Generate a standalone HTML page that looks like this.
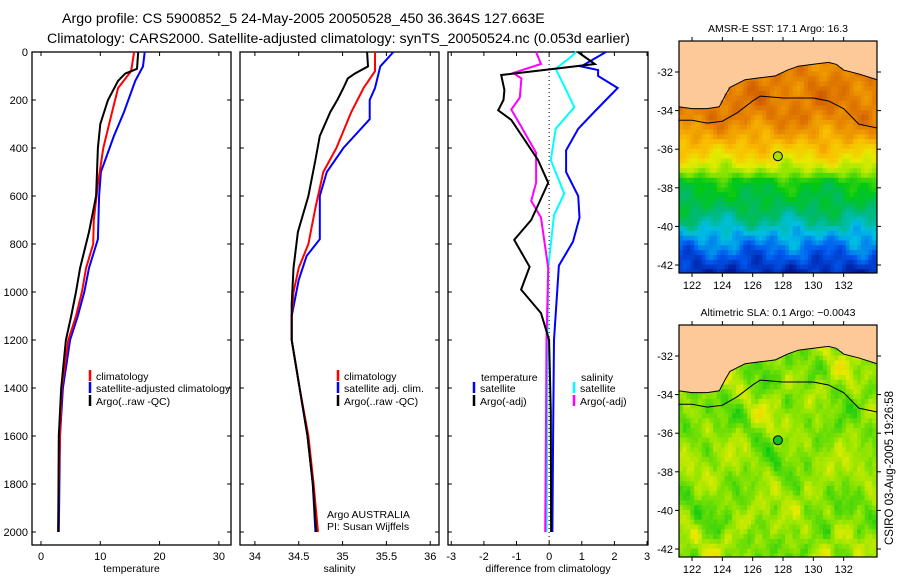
<!DOCTYPE html>
<html><head><meta charset="utf-8">
<style>
html,body{margin:0;padding:0;background:#fff;}
svg text{font-family:"Liberation Sans",sans-serif;fill:#000;}
</style></head>
<body>
<svg id="chart" width="900" height="580" viewBox="0 0 900 580" xmlns="http://www.w3.org/2000/svg">
<text x="62" y="23" font-size="14.2">Argo profile: CS 5900852_5 24-May-2005 20050528_450 36.364S 127.663E</text>
<text x="47" y="43" font-size="14.2">Climatology: CARS2000. Satellite-adjusted climatology: synTS_20050524.nc (0.053d earlier)</text>
<g id="panels"></g>
<g id="maps"></g>
<text transform="translate(893,545) rotate(-90)" font-size="11.5">CSIRO 03-Aug-2005 19:26:58</text>
</svg>
<script>
// ---------- data ----------
const tDepth = [0,80,150,250,400,550,700,800,900,1000,1100,1200,1400,1600,1800,2000];
const tClim  = [15.7,15.2,13,12,10.5,9.6,8.9,8.8,7.6,6.9,5.9,4.6,3.5,3.2,3.0,2.9];
const tSatDepth = [0,60,120,250,350,500,600,780,900,1000,1100,1200,1400,1600,2000];
const tSat   = [17.5,17.2,15.9,14,12.3,10.1,9.8,9.6,8.1,7.3,6.2,4.9,3.7,3.2,3.0];
const tArgoDepth = [0,70,90,120,200,300,400,600,750,900,1000,1100,1200,1400,1600,2000];
const tArgo  = [16.4,16.2,14.2,13,11.3,10,9.6,9.3,8.1,6.6,5.9,5.1,4.2,3.4,3.0,2.9];

const sArgoDepth = [0,60,90,110,150,200,250,350,450,600,750,900,1050,1200,1400,1600,1800,2000];
const sArgo = [35.28,35.29,35.14,35.06,35.01,34.94,34.86,34.74,34.69,34.61,34.49,34.44,34.42,34.42,34.51,34.60,34.66,34.70];
const sClimDepth = [0,80,150,250,400,500,650,800,900,1000,1100,1200,1400,1600,1800,2000];
const sClim = [35.37,35.37,35.24,35.10,34.93,34.78,34.69,34.61,34.50,34.44,34.42,34.42,34.51,34.61,34.67,34.72];
const sSatDepth = [0,60,150,200,280,400,500,600,780,850,950,1100,1200,1400,1600,1800,2000];
const sSat = [35.58,35.43,35.37,35.31,35.31,35.01,34.82,34.74,34.74,34.59,34.50,34.42,34.42,34.51,34.60,34.66,34.69];

const dTArgoDepth = [0,50,96,158,200,243,283,450,545,700,783,895,990,1088,1200,1500,2000];
const dTArgo = [0.88,1.4,-1.47,-1.37,-1.4,-1.56,-1.16,-0.34,-0.03,-0.55,-1.07,-0.6,-0.86,-0.25,0.0,0.05,0.06];
const dSArgoDepth = [0,50,87,110,190,240,310,420,545,620,690,900,1200,1600,2000];
const dSArgo = [-0.4,-0.25,-1.1,-0.85,-0.9,-1.16,-0.86,-0.4,-0.4,-0.55,-0.25,-0.03,-0.08,-0.1,-0.12];
const dSSatDepth = [0,20,70,175,230,320,450,590,680,900,1200,1600,2000];
const dSSat = [0.83,0.67,0.2,0.58,0.77,0.2,0.05,0.46,0.15,-0.03,-0.05,-0.06,-0.08];
const dTSatDepth = [0,60,75,100,150,200,250,320,410,500,600,690,790,890,1200,1600,2000];
const dTSat = [1.74,0.98,1.5,1.5,2.1,1.74,1.38,0.89,0.52,0.52,0.89,0.93,0.73,0.3,0.15,0.12,0.1];

const depthTicks = [0,200,400,600,800,1000,1200,1400,1600,1800,2000];
const tempTicks = [0,10,20,30];
const salTicks = [34,34.5,35,35.5,36];
const diffTicks = [-3,-2,-1,0,1,2,3];

// ---------- helpers ----------
const NS="http://www.w3.org/2000/svg";
function el(tag,attrs,parent){const e=document.createElementNS(NS,tag);for(const k in attrs)e.setAttribute(k,attrs[k]);parent.appendChild(e);return e;}
const panelsG=document.getElementById('panels');
const pTop=52,pBot=545;
const yScale=d=>pTop+d*(48/200);

function panel(name,x0,x1,vmin,vmax,ticks,tickFmt,xlabel,showY){
  const xs=v=>x0+(v-vmin)/(vmax-vmin)*(x1-x0);
  const g=el('g',{},panelsG);
  
  
  const r=el('rect',{x:x0,y:pTop,width:x1-x0,height:pBot-pTop,fill:'none',stroke:'#000','stroke-width':1.3},g);
  
  
  depthTicks.forEach(d=>{
    const y=yScale(d);
    el('line',{x1:x0,x2:x0+4,y1:y,y2:y,stroke:'#000'},g);
    el('line',{x1:x1-4,x2:x1,y1:y,y2:y,stroke:'#000'},g);
    if(showY){const t=el('text',{x:x0-4,y:y+4,'font-size':11,'text-anchor':'end'},g);t.textContent=d;
      
      }
  });
  ticks.forEach(v=>{
    const x=xs(v);
    el('line',{x1:x,x2:x,y1:pTop,y2:pTop+4,stroke:'#000'},g);
    el('line',{x1:x,x2:x,y1:pBot-4,y2:pBot,stroke:'#000'},g);
    const t=el('text',{x:x,y:pBot+15,'font-size':11,'text-anchor':'middle'},g);t.textContent=tickFmt(v);
    
    
  });
  const xl=el('text',{x:(x0+x1)/2,y:pBot+27,'font-size':10.5,'text-anchor':'middle'},g);xl.textContent=xlabel;
  
  
  return {xs,g};
}
function line(p,depths,vals,color,name,w){
  const pts=depths.map((d,i)=>p.xs(vals[i]).toFixed(1)+','+yScale(d).toFixed(1)).join(' ');
  const l=el('polyline',{points:pts,fill:'none',stroke:color,'stroke-width':w||2,'stroke-linejoin':'miter'},p.g);
  
  
}
function legend(g,x,y,color,label,name){
  el('line',{x1:x,x2:x,y1:y-10,y2:y+1,stroke:color,'stroke-width':2.5},g);
  if(label){const t=el('text',{x:x+6,y:y,'font-size':10.5},g);t.textContent=label;
  
  }
}

const p1=panel('temperature',32,231,-1.52,32.05,tempTicks,v=>v,'temperature',true);
line(p1,tSatDepth,tSat,'#0000ff','satellite-adjusted-temperature-line');
line(p1,tDepth,tClim,'#ff0000','climatology-temperature-line');
line(p1,tArgoDepth,tArgo,'#000','argo-temperature-line');
legend(p1.g,90,380,'#ff0000','climatology','legend-climatology');
legend(p1.g,90,392,'#0000ff','satellite-adjusted climatology','legend-satellite');
legend(p1.g,90,405,'#000','Argo(..raw -QC)','legend-argo');

const p2=panel('salinity',240,439,33.83,36.1,salTicks,v=>v,'salinity',false);
line(p2,sSatDepth,sSat,'#0000ff','satellite-adjusted-salinity-line');
line(p2,sClimDepth,sClim,'#ff0000','climatology-salinity-line');
line(p2,sArgoDepth,sArgo,'#000','argo-salinity-line');
legend(p2.g,338,380,'#ff0000','climatology','legend-climatology');
legend(p2.g,338,392,'#0000ff','satellite adj. clim.','legend-satellite');
legend(p2.g,338,405,'#000','Argo(..raw -QC)','legend-argo');
const a1=el('text',{x:327,y:518,'font-size':10.5},p2.g);a1.textContent='Argo AUSTRALIA';


const a2=el('text',{x:327,y:530,'font-size':10.5},p2.g);a2.textContent='PI: Susan Wijffels';



const p3=panel('difference',448,648,-3.1,3.03,diffTicks,v=>v,'difference from climatology',false);
el('line',{x1:p3.xs(0),x2:p3.xs(0),y1:pTop,y2:pBot,stroke:'#000','stroke-width':1,'stroke-dasharray':'1,3'},p3.g);
line(p3,dTSatDepth,dTSat,'#0000ff','temperature-satellite-diff-line');
line(p3,dSSatDepth,dSSat,'#00ffff','salinity-satellite-diff-line');
line(p3,dSArgoDepth,dSArgo,'#ff00ff','salinity-argo-diff-line');
line(p3,dTArgoDepth,dTArgo,'#000','temperature-argo-diff-line');
let tt=el('text',{x:481,y:381,'font-size':10.5},p3.g);tt.textContent='temperature';


let st=el('text',{x:581,y:381,'font-size':10.5},p3.g);st.textContent='salinity';


legend(p3.g,474,392,'#0000ff','satellite','legend-temp-satellite');
legend(p3.g,474,405,'#000','Argo(-adj)','legend-temp-argo');
legend(p3.g,574,392,'#00ffff','satellite','legend-sal-satellite');
legend(p3.g,574,405,'#ff00ff','Argo(-adj)','legend-sal-argo');

// ---------- maps ----------
const mapsG=document.getElementById('maps');
const lonMin=121.14,lonMax=134.2,mx0=679,mx1=877;
const lonTicks=[122,124,126,128,130,132];
const latTicks=[-32,-34,-36,-38,-40,-42];
const coast=[[121.1,-33.8],[122,-33.9],[123,-33.9],[123.8,-33.8],[124.2,-33.2],[124.5,-32.8],[125.5,-32.4],[126.5,-32.3],[127.5,-32.2],[128.3,-31.9],[129,-31.7],[130,-31.6],[131,-31.5],[131.5,-31.6],[132,-31.9],[133,-32.1],[134.2,-32.4]];
const shelf=[[121.1,-34.5],[122,-34.5],[123,-34.65],[124,-34.55],[125,-34.1],[126,-33.5],[126.5,-33.25],[128,-33.35],[130,-33.35],[131,-33.5],[132,-33.9],[132.5,-34.3],[133,-34.7],[134.2,-34.9]];
function coastLat(lon){for(let i=0;i<coast.length-1;i++){const a=coast[i],b=coast[i+1];if(lon>=a[0]&&lon<=b[0])return a[1]+(b[1]-a[1])*(lon-a[0])/(b[0]-a[0]);}return -32.4;}
function lerpC(stops,v){v=Math.max(0,Math.min(1,v));for(let i=0;i<stops.length-1;i++){if(v<=stops[i+1][0]){const t=(v-stops[i][0])/(stops[i+1][0]-stops[i][0]);const a=stops[i][1],b=stops[i+1][1];return 'rgb('+a.map((c,k)=>Math.round(c+(b[k]-c)*t)).join(',')+')';}}return 'rgb('+stops[stops.length-1][1].join(',')+')';}
const cmap=[[0,[0,20,150]],[0.12,[0,90,240]],[0.22,[0,190,230]],[0.32,[0,185,110]],[0.42,[0,200,20]],[0.55,[150,230,0]],[0.62,[230,235,0]],[0.72,[250,190,0]],[0.84,[230,130,0]],[0.95,[200,80,0]],[1,[190,50,20]]];
function noise(x,y,s){return Math.sin(x*0.9+s)*Math.cos(y*1.3+s*2)+0.6*Math.sin(x*2.1+y*1.7+s*3)+0.4*Math.cos(x*3.3-y*2.9+s);}
function sstVal(lon,lat){const bands=[[-30,0.8],[-33.5,0.86],[-34.5,0.84],[-35.5,0.76],[-36.5,0.66],[-37.3,0.55],[-37.8,0.42],[-39,0.36],[-39.8,0.29],[-40.6,0.2],[-41.5,0.12],[-42.5,0.04]];
  let b=0.5;for(let i=0;i<bands.length-1;i++){if(lat<=bands[i][0]&&lat>=bands[i+1][0]){const t=(bands[i][0]-lat)/(bands[i][0]-bands[i+1][0]);b=bands[i][1]+(bands[i+1][1]-bands[i][1])*t;}}
  return b+0.04*noise(lon*1.5,lat*1.5,1);}
function slaVal(lon,lat){return 0.54+0.035*noise(lon*0.8,lat*1.0,4)+0.03*noise(lon*1.7+lat*0.3,lat*1.4-lon*0.2,9)+0.02*noise(lon*2.9-lat*0.7,lat*2.3,2);}
function map(name,y0,title,valFn,dotColor){
  const y1=y0+232;const pxPerLat=19.3;
  const lx=lon=>mx0+(lon-lonMin)*(mx1-mx0)/(lonMax-lonMin);
  const ly=lat=>y0+31+(-32-lat)*pxPerLat;
  const g=el('g',{},mapsG);
  
  
  const bg=el('rect',{x:mx0,y:y0,width:mx1-mx0,height:y1-y0,fill:'#fdc998'},g);
  
  
  const step=0.25;
  for(let lon=lonMin;lon<lonMax;lon+=step){
    const cl=coastLat(lon+step/2);
    for(let lat=-42.45;lat<cl;lat+=step){
      const v=valFn(lon,lat);
      const cellTop=Math.max(ly(Math.min(lat+step,cl)),y0);
      const w=Math.min(step*15.2+0.6,mx1-lx(lon));
      const h=Math.min(ly(lat)-cellTop+0.6,y1-cellTop);
      el('rect',{x:lx(lon).toFixed(1),y:cellTop.toFixed(1),width:w.toFixed(1),height:Math.max(0,h).toFixed(1),fill:lerpC(cmap,v)},g);
    }
  }
  const cp=el('polyline',{points:coast.map(p=>lx(p[0])+','+ly(p[1])).join(' '),fill:'none',stroke:'#000','stroke-width':1},g);
  
  
  const sp=el('polyline',{points:shelf.map(p=>lx(p[0])+','+ly(p[1])).join(' '),fill:'none',stroke:'#000','stroke-width':1},g);
  
  
  const dot=el('circle',{cx:lx(127.663),cy:ly(-36.364),r:4.5,fill:dotColor,stroke:'#000','stroke-width':1},g);
  
  
  el('rect',{x:mx0,y:y0,width:mx1-mx0,height:y1-y0,fill:'none',stroke:'#000','stroke-width':1.2},g);
  lonTicks.forEach(l=>{const x=lx(l);el('line',{x1:x,x2:x,y1:y0-4,y2:y0,stroke:'#000'},g);el('line',{x1:x,x2:x,y1:y1,y2:y1+4,stroke:'#000'},g);
    const t=el('text',{x:x,y:y1+16,'font-size':11,'text-anchor':'middle'},g);t.textContent=l;
    
    });
  latTicks.forEach(l=>{const y=ly(l);el('line',{x1:mx0-4,x2:mx0,y1:y,y2:y,stroke:'#000'},g);el('line',{x1:mx1,x2:mx1+4,y1:y,y2:y,stroke:'#000'},g);
    const t=el('text',{x:mx0-6,y:y+4,'font-size':11,'text-anchor':'end'},g);t.textContent=l;
    
    });
  const tt=el('text',{x:(mx0+mx1)/2,y:y0-9,'font-size':10.5,'text-anchor':'middle'},g);tt.textContent=title;
  
  
}
map('sst-map',41,'AMSR-E SST: 17.1 Argo: 16.3',sstVal,'#a8e000');
map('sla-map',325,'Altimetric SLA: 0.1 Argo: \u22120.0043',slaVal,'#10c020');
</script>
</body></html>
